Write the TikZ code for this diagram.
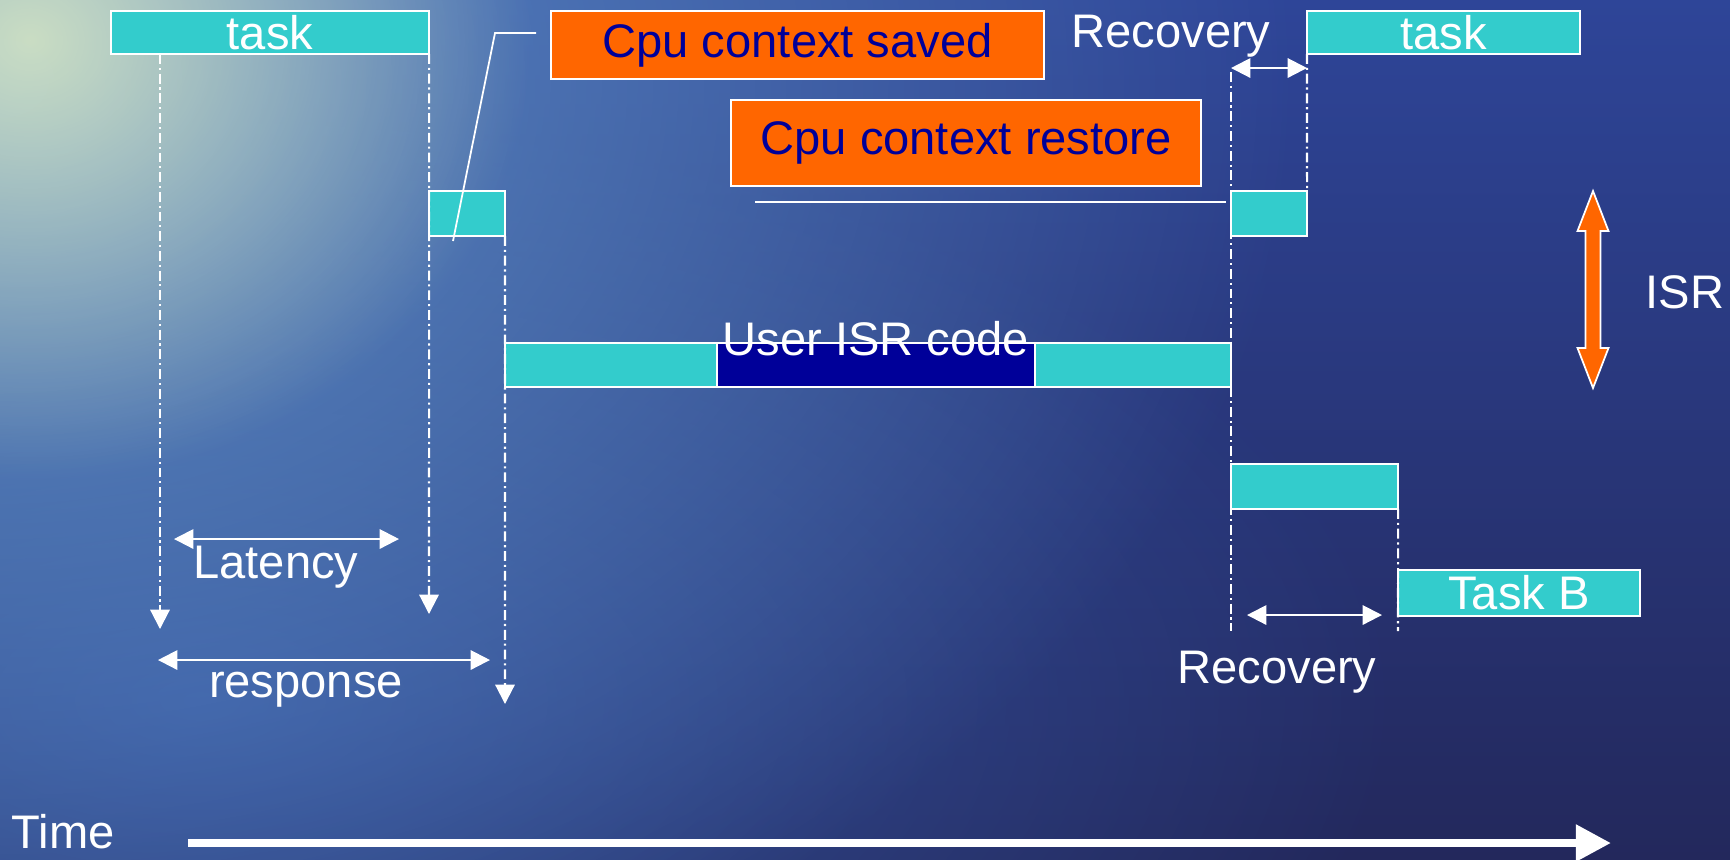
\documentclass[tikz,border=0pt]{standalone}
\usepackage{fontspec}
\setmainfont{Liberation Sans}
\usetikzlibrary{arrows.meta,fadings}

\definecolor{boxcyan}{HTML}{33CCCC}
\definecolor{ctxorange}{HTML}{FF6600}
\definecolor{ctxtext}{HTML}{000099}
\definecolor{usernavy}{HTML}{000099}
\definecolor{seatop}{HTML}{2E4598}
\definecolor{seabottom}{HTML}{23285C}
\definecolor{glowblue}{HTML}{5F90C6}
\definecolor{glowpale}{HTML}{D6E6C4}
\definecolor{glowlow}{HTML}{3A5EAE}
\tikzfading[name=glowfade, inner color=transparent!0, outer color=transparent!100]

\begin{document}
\begin{tikzpicture}[x=0.01cm,y=-0.01cm,>={Triangle[length=5.5pt,width=5.5pt]},
  every node/.style={font=\fontsize{13.4}{16}\selectfont, text=white, inner sep=0pt, outer sep=0pt},
  taskbox/.style={draw=white, fill=boxcyan, line width=0.6pt, anchor=north west},
  ctxbox/.style={draw=white, fill=ctxorange, line width=0.6pt, anchor=north west, text=ctxtext},
  trace/.style={white, line width=0.6pt, dash pattern=on 2.8pt off 1.1pt on 0.6pt off 1.1pt},
  gap/.style={white, line width=0.6pt, <->},
  leader/.style={white, line width=0.5pt}]
  \useasboundingbox (0,0) rectangle (1730,859);
  \shade[top color=seatop, bottom color=seabottom] (0,0) rectangle (1730,859);
  \begin{scope}
    \clip (0,0) rectangle (1730,859);
    \fill[glowlow, path fading=glowfade, opacity=0.8] (-1000,100) rectangle (1400,1300);
    \fill[glowblue, path fading=glowfade] (-1300,-920) rectangle (1300,1080);
    \fill[glowpale, path fading=glowfade, opacity=0.9] (-470,-400) rectangle (530,480);
  \end{scope}

  \node[taskbox, minimum width=3.18cm, minimum height=0.43cm] (taskA) at (111,11) {task};
  \node[ctxbox, minimum width=4.93cm, minimum height=0.68cm] (saved) at (551,11) {Cpu context saved};
  \node (recA) at (1171,36) {Recovery};
  \node[taskbox, minimum width=2.73cm, minimum height=0.43cm] (taskC) at (1307,11) {task};
  \node[ctxbox, minimum width=4.70cm, minimum height=0.86cm] (restore) at (731,100) {Cpu context restore};
  \node[taskbox, minimum width=0.76cm, minimum height=0.45cm] (save) at (429,191) {};
  \node[taskbox, minimum width=0.76cm, minimum height=0.45cm] (rest) at (1231,191) {};
  \node[taskbox, minimum width=2.12cm, minimum height=0.44cm] (isrA) at (505,343) {};
  \node[taskbox, fill=usernavy, minimum width=3.18cm, minimum height=0.44cm] (user) at (717,343) {};
  \node[taskbox, minimum width=1.96cm, minimum height=0.44cm] (isrB) at (1035,343) {};
  \node (usertxt) at (876,339) {User ISR code};
  \node[taskbox, minimum width=1.67cm, minimum height=0.45cm] (resume) at (1231,464) {};
  \node[taskbox, minimum width=2.42cm, minimum height=0.46cm] (taskB) at (1398,570) {Task B};

  \coordinate (endA) at (160,629);
  \coordinate (endB) at (429,614);
  \coordinate (endC) at (505,704);
  \coordinate (topD) at (1231,72);
  \coordinate (endD) at (1231,631);
  \coordinate (endF) at (1398,631);
  \draw[trace,->] (taskA.south west -| endA) -- (endA);
  \draw[trace,->] (taskA.south east) -- (endB);
  \draw[trace,->] (save.south east) -- (endC);
  \draw[trace] (topD) -- (endD);
  \draw[trace] (taskC.south west) -- (rest.north east);
  \draw[trace] (resume.south east) -- (endF);

  \coordinate (svA) at (536,33);
  \coordinate (svB) at (495,33);
  \coordinate (svC) at (453,241);
  \draw[leader] (svA) -- (svB) -- (svC);
  \coordinate (rsA) at (755,202);
  \draw[leader] (rsA) -- ++(471,0);

  \node (lat) at (276,567) {Latency};
  \coordinate (latL) at (174,539);
  \coordinate (latR) at (399,539);
  \draw[gap] (latL) -- (latR);
  \node (resp) at (306,690) {response};
  \coordinate (respL) at (158,660);
  \coordinate (respR) at (490,660);
  \draw[gap] (respL) -- (respR);

  \coordinate (recAL) at (1231,68);
  \draw[gap] (recAL) -- (recAL -| taskC.west);
  \node (recB) at (1277,672) {Recovery};
  \coordinate (recBL) at (1247,615);
  \coordinate (recBR) at (1382,615);
  \draw[gap] (recBL) -- (recBR);

  \fill[ctxorange, draw=white, line width=0.5pt] (1593,191) -- (1608.5,231) -- (1600.5,231)
    -- (1600.5,348) -- (1608.5,348) -- (1593,388) -- (1577.5,348) -- (1585.5,348)
    -- (1585.5,231) -- (1577.5,231) -- cycle;
  \node (isr) at (1685,292) {ISR};

  \node (time) at (63,832) {Time};
  \coordinate (timeL) at (188,843);
  \coordinate (timeR) at (1611,843);
  \draw[white, line width=2.3pt, -{Triangle[length=10pt,width=10pt]}] (timeL) -- (timeR);
\end{tikzpicture}
\end{document}
